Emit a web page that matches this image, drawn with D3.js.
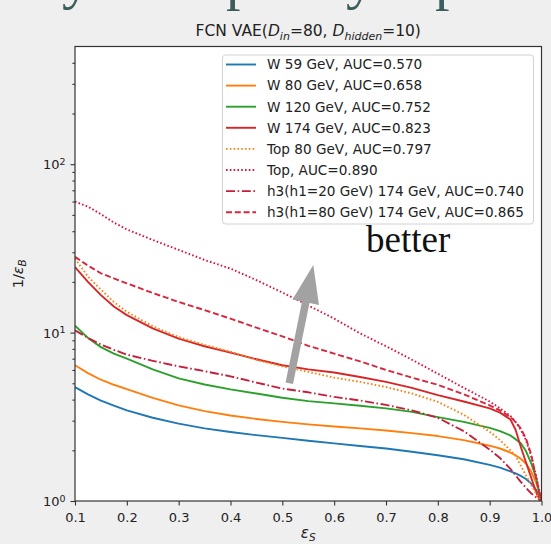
<!DOCTYPE html>
<html>
<head>
<meta charset="utf-8">
<script src="https://cdn.jsdelivr.net/npm/d3@7"></script>
<style>
  html, body { margin: 0; padding: 0; background: #efefef; }
  svg { display: block; }
  text { font-family: "DejaVu Sans", sans-serif; }
</style>
</head>
<body>
<svg id="chart" width="551" height="544"></svg>
<script>
// ---------------- data ----------------
const eps = [0.1,0.125,0.15,0.175,0.2,0.25,0.3,0.35,0.4,0.45,0.5,0.55,0.6,0.65,0.7,0.75,0.8,0.85,0.9,0.92,0.94,0.95,0.96,0.97,0.98,0.99,0.995,1.0];

const w59    = [4.75,4.3,3.95,3.68,3.45,3.12,2.88,2.7,2.57,2.46,2.37,2.28,2.2,2.12,2.05,1.96,1.87,1.77,1.64,1.58,1.5,1.46,1.41,1.35,1.27,1.16,1.08,1.0];
const w80    = [6.4,5.75,5.25,4.9,4.62,4.1,3.7,3.42,3.22,3.07,2.95,2.85,2.77,2.7,2.62,2.53,2.43,2.3,2.13,2.05,1.94,1.87,1.78,1.67,1.5,1.28,1.13,1.0];
const w120   = [11,9.3,8.2,7.5,7.0,6.05,5.35,4.92,4.6,4.35,4.1,3.92,3.8,3.68,3.55,3.38,3.15,2.95,2.72,2.6,2.45,2.33,2.2,1.98,1.68,1.36,1.15,1.0];
const w174   = [24.5,20,16.7,14.3,12.7,10.6,9.2,8.3,7.6,6.95,6.4,6.05,5.8,5.45,5.1,4.7,4.25,3.9,3.55,3.35,3.05,2.65,2.1,1.7,1.38,1.12,1.04,1.0];
const top80  = [27.5,21.5,18,15.2,13.3,10.9,9.4,8.45,7.7,6.9,6.3,5.85,5.4,5.1,4.75,4.35,3.88,3.25,2.58,2.3,2.0,1.85,1.62,1.42,1.25,1.1,1.04,1.0];
const topAll = [60,56,50.5,45,41,35.5,31,27,24,20.5,17.3,14.5,12.1,9.9,8.3,6.9,5.7,4.7,3.9,3.55,3.2,2.95,2.65,2.3,1.85,1.4,1.18,1.0];
const h3h20  = [10.3,9.3,8.5,7.9,7.4,6.8,6.3,5.9,5.5,5.05,4.65,4.42,4.15,3.95,3.72,3.45,3.12,2.6,2.02,1.8,1.55,1.42,1.3,1.2,1.11,1.05,1.02,1.0];
const h3h80  = [28.2,25,22.5,21,19.6,17.2,15.2,13.6,12.1,10.7,9.5,8.35,7.5,6.75,6.0,5.4,4.9,4.3,3.7,3.45,3.15,2.95,2.7,2.35,1.9,1.35,1.15,1.0];

const seriesLabels = [
  "W 59 GeV, AUC=0.570",
  "W 80 GeV, AUC=0.658",
  "W 120 GeV, AUC=0.752",
  "W 174 GeV, AUC=0.823",
  "Top 80 GeV, AUC=0.797",
  "Top, AUC=0.890",
  "h3(h1=20 GeV) 174 GeV, AUC=0.740",
  "h3(h1=80 GeV) 174 GeV, AUC=0.865"
];
const seriesValues = [w59, w80, w120, w174, top80, topAll, h3h20, h3h80];
const seriesColors = ["#1f77b4","#ff7f0e","#2ca02c","#d62728","#ff7f0e","#dc143c","#c4203c","#d6273f"];
const seriesDash   = ["", "", "", "", "1.6,2.2", "1.6,2.2", "9,2.6,1.6,2.6", "6,2.8"];

const xTicks = [0.1,0.2,0.3,0.4,0.5,0.6,0.7,0.8,0.9,1.0];
const yMajor = [1,10,100];
const yMinor = [2,3,4,5,6,7,8,9,20,30,40,50,60,70,80,90,200,300,400];
const yExponents = ["0","1","2"];

const bgGlyphs = [["y",62,-2],["p",226,-1],["y",346,-2],["p",435,-1]];

// ---------------- layout ----------------
const svg = d3.select("#chart");
const L = 75, R = 541.5, T = 46.5, B = 501;

const x = d3.scaleLinear().domain([0.1, 1.0]).range([L, R]);
const y = d3.scaleLog().domain([1, 500]).range([B, T]);

// cut-off slide title glyphs at the very top
svg.selectAll("text.bg").data(bgGlyphs).enter().append("text")
  .attr("class","bg")
  .attr("x", d => d[1]).attr("y", d => d[2])
  .style("font-family", "'Liberation Serif', serif")
  .attr("font-size", 58).attr("fill", "#3b5e5c")
  .text(d => d[0]);

// plot area
svg.append("rect").attr("x", L).attr("y", T).attr("width", R-L).attr("height", B-T).attr("fill", "#fff");

svg.append("clipPath").attr("id","clip").append("rect")
  .attr("x", L).attr("y", T).attr("width", R-L).attr("height", B-T);

const line = d3.line().x(d => x(d[0])).y(d => y(d[1]));
const g = svg.append("g").attr("clip-path","url(#clip)");
seriesValues.forEach((vals, i) => {
  g.append("path")
    .attr("d", line(eps.map((e, j) => [e, vals[j]])))
    .attr("fill", "none")
    .attr("stroke", seriesColors[i])
    .attr("stroke-width", 1.9)
    .attr("stroke-dasharray", seriesDash[i] || null)
    .attr("stroke-linejoin","round");
});

// axes
const xAxis = svg.append("g").attr("transform", `translate(0,${B})`)
  .call(d3.axisBottom(x).tickValues(xTicks).tickFormat(d3.format(".1f")).tickSize(4.5).tickPadding(5));
const yAxisMinor = svg.append("g").attr("transform", `translate(${L},0)`)
  .call(d3.axisLeft(y).tickValues(yMinor).tickFormat("").tickSize(2.6));
const yAxis = svg.append("g").attr("transform", `translate(${L},0)`)
  .call(d3.axisLeft(y).tickValues(yMajor).tickSize(4.5).tickPadding(5));

[xAxis, yAxis, yAxisMinor].forEach(a => {
  a.select(".domain").remove();
  a.selectAll("line").attr("stroke", "#333").attr("stroke-width", 1.1);
  a.selectAll("text").attr("fill", "#222").attr("font-size", 13).style("font-family","'DejaVu Sans', sans-serif");
});
xAxis.selectAll("text").attr("dy", "0.9em");

yAxis.selectAll("text").each(function(d, i) {
  const t = d3.select(this);
  t.text("").attr("dy", "0.35em");
  t.append("tspan").text("10");
  t.append("tspan").attr("dy", "-0.45em").attr("font-size", 9.5).text(yExponents[i]);
});

// frame
svg.append("rect").attr("x", L).attr("y", T).attr("width", R-L).attr("height", B-T)
  .attr("fill","none").attr("stroke","#333").attr("stroke-width",1.2);

// title
const title = svg.append("text").attr("x", (L+R)/2).attr("y", 36).attr("text-anchor","middle")
  .attr("font-size", 15.5).attr("fill","#222");
title.append("tspan").text("FCN VAE(");
title.append("tspan").attr("font-style","italic").text("D");
title.append("tspan").attr("font-style","italic").attr("font-size",11).attr("dy",3.5).text("in");
title.append("tspan").attr("dy",-3.5).text("=80, ");
title.append("tspan").attr("font-style","italic").text("D");
title.append("tspan").attr("font-style","italic").attr("font-size",11).attr("dy",3.5).text("hidden");
title.append("tspan").attr("dy",-3.5).text("=10)");

// x label
const xl = svg.append("text").attr("x", (L+R)/2).attr("y", 538).attr("text-anchor","middle")
  .attr("font-size", 15).attr("fill","#222");
xl.append("tspan").attr("font-style","italic").text("ε");
xl.append("tspan").attr("font-style","italic").attr("font-size",10.5).attr("dy",3).text("S");

// y label
const yl = svg.append("text").attr("transform", `translate(23,${(T+B)/2}) rotate(-90)`)
  .attr("text-anchor","middle").attr("font-size", 14.5).attr("fill","#222");
yl.append("tspan").text("1/");
yl.append("tspan").attr("font-style","italic").text("ε");
yl.append("tspan").attr("font-style","italic").attr("font-size",10.5).attr("dy",3).text("B");

// legend
const lg = svg.append("g");
lg.append("rect").attr("x", 222.5).attr("y", 55).attr("width", 311).attr("height", 169).attr("rx", 3)
  .attr("fill","#fff").attr("fill-opacity",0.85).attr("stroke","#d2d2d2").attr("stroke-width",1);
seriesLabels.forEach((lab, i) => {
  const cy = 64.5 + i * 21.1;
  lg.append("line").attr("x1", 226).attr("x2", 256).attr("y1", cy).attr("y2", cy)
    .attr("stroke", seriesColors[i]).attr("stroke-width", 1.9)
    .attr("stroke-dasharray", seriesDash[i] || null);
  lg.append("text").attr("x", 267).attr("y", cy + 4.8).attr("font-size", 13.6).attr("fill","#222").text(lab);
});

// "better" annotation with arrow
const tip = [313.3, 265], tail = [289.3, 383.3];
const dx = tip[0]-tail[0], dy = tip[1]-tail[1], len = Math.hypot(dx, dy);
const ux = dx/len, uy = dy/len, px = -uy, py = ux;
const headLen = 38, headW = 13.5, shaftW = 3.8;
const bx = tip[0]-ux*headLen, by = tip[1]-uy*headLen;
const arrowPts = [
  [tail[0]+px*shaftW, tail[1]+py*shaftW],
  [bx+px*shaftW, by+py*shaftW],
  [bx+px*headW, by+py*headW],
  tip,
  [bx-px*headW, by-py*headW],
  [bx-px*shaftW, by-py*shaftW],
  [tail[0]-px*shaftW, tail[1]-py*shaftW]
];
svg.append("polygon").attr("points", arrowPts.map(p => p.join(",")).join(" ")).attr("fill","#a2a2a2");

svg.append("text").attr("x", 366).attr("y", 252).style("font-family","'Liberation Serif', serif")
  .attr("font-size", 37).attr("fill","#111").text("better");
</script>
</body>
</html>
